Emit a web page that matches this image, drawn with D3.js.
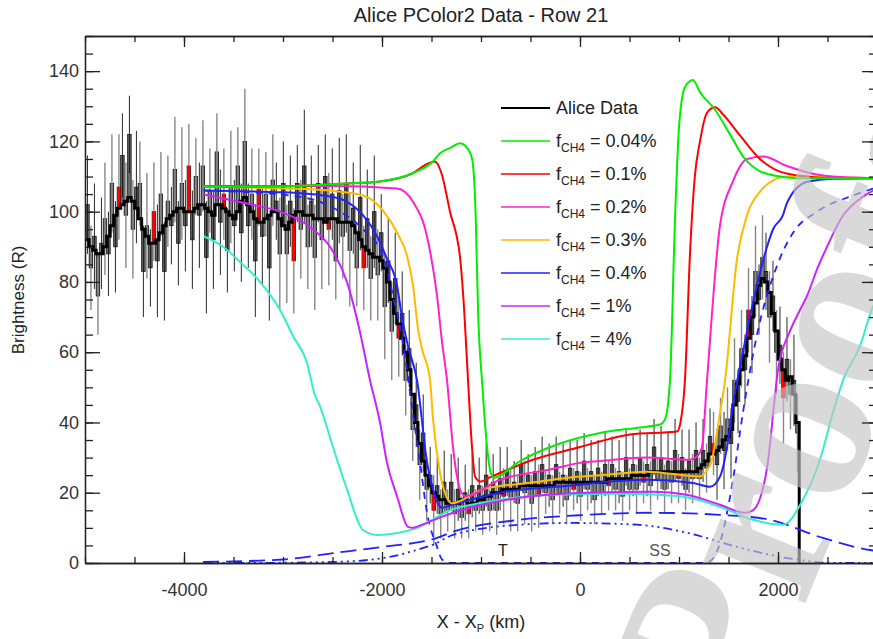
<!DOCTYPE html>
<meta charset="utf-8">
<style>
body { margin: 0; background: #fff; }
text { font-family: "Liberation Sans", Arial, Helvetica, sans-serif; fill: #222; }
</style>
<svg width="873" height="639"></svg>
<script src="https://d3js.org/d3.v7.min.js"></script>
<script>
// Alice row 21 data: bins of ~35 km starting at -4993 km
var binStart = -4993, binWidth = 35.33;

var smooth = [
  92,90,89,88,88,90,93,96,99,101,
  102,103,104,103,101,98,95,93,91,91,
  92,94,96,98,99,100,101,101,100,100,
  100,101,102,102,101,100,99,102,102,101,
  100,99,98,100,103,104,102,100,98,97,
  97,98,99,100,100,98,96,95,97,99,
  100,100,99,99,99,98,98,98,97,98,
  98,98,97,97,97,97,96,94,92,90,
  89,88,87,87,86,84,80,75,71,68,
  64,60,55,48,40,34,29,25,22,20,
  19,18,18,17,17,17,17,18,18,17,
  17,17,18,18,19,19,20,20,20,21,
  21,21,21,21,22,22,22,22,22,22,
  22,22,22,22,23,23,23,23,23,23,
  23,23,23,23,23,23,23,23,23,24,
  24,24,24,24,24,24,25,25,25,25,
  25,26,26,26,26,26,26,26,26,26,
  26,26,26,26,26,27,28,29,31,31,
  32,33,35,36,38,45,51,55,59,64,
  70,74,79,81,80,77,71,66,58,55,
  52,53,48,40];

var raw = [
  102,84,93,76,91,98,88,108,90,107,
  116,99,122,95,107,108,83,96,84,100,
  86,105,83,103,96,112,91,108,96,113,
  92,110,99,113,87,106,92,117,97,105,
  89,107,96,113,94,120,96,105,86,107,
  93,105,84,109,103,88,108,88,103,86,
  108,95,113,90,103,87,108,92,110,95,
  105,86,106,93,108,89,101,84,104,84,
  98,81,100,82,94,73,86,66,81,64,
  71,52,61,38,45,28,37,21,25,15,
  22,14,23,15,23,14,21,13,20,14,
  22,15,22,15,25,15,23,15,24,19,
  26,18,23,17,28,20,25,17,26,19,
  28,20,25,18,28,20,25,18,27,21,
  26,19,29,21,26,18,27,20,28,22,
  28,21,26,19,30,21,28,21,30,23,
  28,22,33,24,30,21,29,23,32,24,
  30,21,29,24,32,24,32,27,36,34,
  28,39,32,41,34,52,46,61,55,72,
  65,83,75,87,83,70,76,60,62,47,
  58,48,52,37];

var err = [
  14,12,15,11,13,16,12,14,13,15,
  12,15,11,14,16,12,13,15,11,14,
  16,12,14,13,11,15,12,16,13,12,
  14,11,15,13,16,12,14,11,15,13,
  12,16,13,11,14,15,12,13,16,11,
  14,12,15,13,11,16,12,14,13,15,
  11,14,16,12,13,15,11,14,12,16,
  13,11,15,12,14,16,13,11,15,12,
  14,12,16,13,11,15,12,14,13,11,
  12,10,11,9,12,10,11,9,8,10,
  8,7,9,6,8,7,9,6,8,7,
  9,6,8,7,9,6,8,7,9,8,
  7,9,6,8,7,9,6,8,7,9,
  8,6,9,7,8,6,9,7,8,6,
  9,7,8,6,9,7,8,6,9,7,
  8,6,9,7,8,6,9,7,8,6,
  9,7,8,6,9,7,8,6,9,7,
  8,6,9,7,8,6,9,7,8,9,
  10,8,11,9,10,12,9,11,10,12,
  11,13,10,12,11,13,10,12,11,13,
  12,10,13,11];

// every 10th bin is marked red
var redFirst = 9, redEvery = 10;

// model curves [km, R]
var fch4_004 = [[-3800,107],[-3000,107.2],[-2354,108],[-2020,108.6],[-1687,111],[-1485,114.3],[-1414,116.6],[-1300,118.3],
  [-1212,119.5],[-1150,118.5],[-1090,115],[-1055,100],[-1030,72],[-985,50],[-935,32],[-900,25.5],[-870,24.3],
  [-606,29],[-202,34],[202,37],[606,38.6],[808,39.4],[860,41],[909,52],[960,98],[1000,124],[1060,135.5],[1141,137.5],
  [1212,134],[1364,129],[1515,122],[1667,115],[1818,111.5],[2020,110],[2200,109.5],[3000,109.5]];
var fch4_01 = [[-3800,107],[-3000,107.2],[-2354,108],[-2020,108.6],[-1687,111],[-1550,113.5],[-1465,114.3],[-1400,111],
  [-1313,100],[-1212,87],[-1170,72],[-1131,52],[-1091,33],[-1060,24.6],[-1010,23.2],[-900,24.5],[-475,29.4],
  [0,33],[202,34.6],[505,36.6],[980,37.4],[1015,40],[1060,52],[1111,88],[1160,110],[1212,120],[1280,128],[1364,129.7],
  [1450,127.5],[1616,121.7],[1818,115],[2020,111.4],[2293,110],[2500,109.5],[3000,109.5]];
var fch4_02 = [[-3800,107.3],[-3000,107.3],[-2525,107.3],[-1848,106.6],[-1687,102.8],[-1546,93],[-1444,76],[-1394,63],
  [-1343,52],[-1283,33],[-1212,21],[-1161,19],[-808,23.7],[-303,26.6],[0,28.5],[202,29],[677,30],[1111,29.4],
  [1181,30.3],[1232,33],[1283,52],[1414,96],[1545,108.6],[1687,115],[1850,115.7],[2091,113],[2354,110.8],[2555,110],[3000,109.5]];
var fch4_03 = [[-3800,107.1],[-3000,106.6],[-2525,106],[-2192,104.6],[-1990,100.3],[-1848,94],[-1747,87.4],[-1687,79],
  [-1636,66.6],[-1596,61],[-1515,52],[-1485,41],[-1414,25.7],[-1333,18],[-1293,17],[-980,21],[-475,22.9],[0,24.6],
  [202,25],[677,26],[1212,24.6],[1262,25.7],[1333,29.4],[1414,42.8],[1465,52],[1586,86.6],[1687,99],[1818,105.7],
  [1950,108.9],[2091,110],[3000,109.5]];
var fch4_04 = [[-3800,106],[-3000,105.5],[-2525,104.3],[-2354,102.8],[-2192,99],[-2050,93],[-1950,86.6],[-1848,79],
  [-1798,70],[-1737,61.7],[-1646,52],[-1545,28.6],[-1485,21],[-1414,16],[-1394,15.7],[-1300,16.5],[-808,20],[0,22.3],
  [202,22.9],[677,23.7],[1141,22.8],[1313,21.7],[1414,24.6],[1485,33],[1545,45],[1646,60],[1747,74],[1889,90],
  [1950,95],[2050,99],[2091,102.5],[2293,108.5],[2555,109.4],[3000,109.5]];
var fch4_1 = [[-3800,104.9],[-3364,102.3],[-3030,100],[-2697,95],[-2525,90],[-2354,80],[-2222,65.7],[-2121,52],
  [-2020,40],[-1950,28.6],[-1848,19],[-1737,10.3],[-1687,10],[-1616,10.7],[-1283,14.3],[-606,18.6],[70,20],[737,20.3],
  [1080,19.4],[1414,16.6],[1667,14.3],[1747,15],[1889,27],[1960,45],[2000,55],[2121,66],[2222,72],[2293,76],
  [2400,84],[2495,90],[2657,98.9],[2828,103.7],[2960,106],[3000,106.5]];
var fch4_4 = [[-3800,93],[-3606,90],[-3434,85.7],[-3232,80],[-3030,72],[-2899,64.6],[-2758,57],[-2680,48],[-2626,44.6],
  [-2495,33],[-2354,21],[-2192,9.4],[-2050,8],[-1646,10],[-1313,15],[-939,17.4],[-273,19.4],[404,19.7],[1010,19],
  [1414,16],[1747,12.3],[2050,10.9],[2252,18],[2424,29.4],[2555,42.8],[2657,52],[2828,61.7],[2960,73],[3000,75]];
// blue dashed components
var blueDash = [[-3800,106],[-3465,105.7],[-2929,104.6],[-2626,102.8],[-2424,100],[-2192,95],[-1990,87.4],[-1889,76],
  [-1788,62.8],[-1700,45],[-1616,28.6],[-1545,14.3],[-1444,4.6],[-1394,1],[-1300,0],[1250,0],[1313,0.5],[1414,5.7],
  [1485,14.3],[1545,23.7],[1646,42.8],[1788,65],[1990,84.6],[2152,94],[2394,100],[2758,104.6],[2960,106.6],[3000,107]];
var blueLongDash = [[-3808,0.3],[-3000,1],[-2495,2.8],[-1990,4.6],[-1616,6],[-1485,6.8],[-1283,8.9],[-606,12.3],
  [70,13.7],[737,14.3],[1414,13.7],[1919,12.3],[2424,7.4],[2929,3.7],[3000,3.4]];
var blueDashDot = [[-3800,0],[-3505,0],[-2495,0.3],[-1990,1.4],[-1616,4],[-1485,5.2],[-1283,8],[-606,10.9],[-101,11.4],
  [576,10.9],[1080,8.6],[1586,4.6],[2091,1.4],[2596,0],[3000,0]];

var legendLabels = ["Alice Data", "0.04%", "0.1%", "0.2%", "0.3%", "0.4%", "1%", "4%"];
var legendColors = ["#000000", "#00ee00", "#ff0000", "#ff22cc", "#ffbb00", "#2222ff", "#cc22ff", "#33eecc"];
var xTicks = [-4000, -2000, 0, 2000];
var yTicks = [0, 20, 40, 60, 80, 100, 120, 140];

var svg = d3.select("svg"),
    width = +svg.attr("width"),
    height = +svg.attr("height");

var x = d3.scaleLinear().domain([-5000, 3000]).range([85, 877]);
var y = d3.scaleLinear().domain([0, 150]).range([563, 36]);

svg.append("defs").append("clipPath").attr("id", "plot")
  .append("rect").attr("x", 85).attr("y", 36).attr("width", 792).attr("height", 527);

var plot = svg.append("g").attr("clip-path", "url(#plot)");

// data boxes between raw value and smoothed value
var bins = raw.map(function(v, i) {
  return { i: i, x0: binStart + i * binWidth, x1: binStart + (i + 1) * binWidth,
           raw: v, sm: smooth[i], err: err[i], red: (i - redFirst) % redEvery === 0 && i >= redFirst };
});

plot.append("g").selectAll("rect")
  .data(bins).enter().append("rect")
  .attr("x", function(d) { return x(d.x0); })
  .attr("width", function(d) { return x(d.x1) - x(d.x0); })
  .attr("y", function(d) { return y(Math.max(d.raw, d.sm)); })
  .attr("height", function(d) { return Math.abs(y(d.raw) - y(d.sm)); })
  .attr("fill", "#6a6a6a")
  .attr("stroke", "#111")
  .attr("stroke-width", 0.8);

plot.append("g").selectAll("line")
  .data(bins).enter().append("line")
  .attr("x1", function(d) { return x((d.x0 + d.x1) / 2); })
  .attr("x2", function(d) { return x((d.x0 + d.x1) / 2); })
  .attr("y1", function(d) { return y(d.raw - d.err); })
  .attr("y2", function(d) { return y(d.raw + d.err); })
  .attr("stroke", function(d) { return d.i % 2 ? "#888" : "#111"; })
  .attr("stroke-width", function(d) { return d.i % 2 ? 1.4 : 0.9; });

plot.append("g").selectAll("rect")
  .data(bins.filter(function(d) { return d.red; })).enter().append("rect")
  .attr("x", function(d) { return x(d.x0) + 0.3; })
  .attr("width", function(d) { return x(d.x1) - x(d.x0) - 0.6; })
  .attr("y", function(d) { return y(Math.max(d.raw, d.sm)); })
  .attr("height", function(d) { return Math.max(2, Math.abs(y(d.raw) - y(d.sm))); })
  .attr("fill", "#ff0000");

var stepPts = smooth.map(function(v, i) { return [binStart + i * binWidth, v]; });
var xEnd = binStart + smooth.length * binWidth;
stepPts.push([xEnd, smooth[smooth.length - 1]]);
stepPts.push([xEnd, 0]);

plot.append("path")
  .datum(stepPts)
  .attr("fill", "none")
  .attr("stroke", "#000")
  .attr("stroke-width", 3)
  .attr("d", d3.line().x(function(d) { return x(d[0]); }).y(function(d) { return y(d[1]); }).curve(d3.curveStepAfter));

// model curves
var curve = d3.line()
  .x(function(d) { return x(d[0]); })
  .y(function(d) { return y(d[1]); })
  .curve(d3.curveMonotoneX);

var dashed = [
  { pts: blueDash, dash: "7,6" },
  { pts: blueLongDash, dash: "16,7" },
  { pts: blueDashDot, dash: "9,4,2,4,2,4,2,4" }
];
plot.append("g").selectAll("path")
  .data(dashed).enter().append("path")
  .attr("fill", "none")
  .attr("stroke", "#2222ff")
  .attr("stroke-width", 1.8)
  .attr("stroke-dasharray", function(d) { return d.dash; })
  .attr("d", function(d) { return curve(d.pts); });

var models = [fch4_4, fch4_1, fch4_04, fch4_03, fch4_02, fch4_01, fch4_004];
var modelColors = ["#33eecc", "#cc22ff", "#2222ff", "#ffbb00", "#ff22cc", "#ff0000", "#00ee00"];
plot.append("g").selectAll("path")
  .data(models).enter().append("path")
  .attr("fill", "none")
  .attr("stroke", function(d, i) { return modelColors[i]; })
  .attr("stroke-width", 2)
  .attr("d", curve);

// annotations
svg.append("text").attr("x", 503).attr("y", 556).attr("text-anchor", "middle")
  .attr("font-size", 16).text("T");
svg.append("text").attr("x", 660).attr("y", 556).attr("text-anchor", "middle")
  .attr("font-size", 16).style("fill", "#555").text("SS");

// watermark
svg.append("text")
  .attr("transform", "translate(748,745) rotate(-68)")
  .attr("font-size", 240)
  .style("font-family", "'Liberation Serif', serif")
  .style("font-weight", "bold")
  .style("fill", "#c4c4c4")
  .style("fill-opacity", 0.65)
  .text("Proofs");

// axes
function styleAxis(g) {
  g.attr("color", "#222").attr("font-size", 18)
   .attr("font-family", "'Liberation Sans', Arial, sans-serif");
  g.selectAll("line").attr("stroke-width", 1.3);
  g.select(".domain").attr("stroke-width", 1.3);
  g.selectAll("text").style("fill", "#333");
}

svg.append("g").attr("transform", "translate(0,563)")
  .call(d3.axisBottom(x).ticks(16).tickSize(-6).tickSizeOuter(0).tickFormat(""))
  .call(styleAxis);
svg.append("g").attr("transform", "translate(0,563)")
  .call(d3.axisBottom(x).tickValues(xTicks).tickSize(-11).tickSizeOuter(0).tickPadding(20)
    .tickFormat(function(d) { return String(d); }))
  .call(styleAxis);
svg.append("g").attr("transform", "translate(0,36)")
  .call(d3.axisTop(x).ticks(16).tickSize(-6).tickSizeOuter(0).tickFormat(""))
  .call(styleAxis);
svg.append("g").attr("transform", "translate(0,36)")
  .call(d3.axisTop(x).tickValues(xTicks).tickSize(-11).tickSizeOuter(0).tickFormat(""))
  .call(styleAxis);

svg.append("g").attr("transform", "translate(85,0)")
  .call(d3.axisLeft(y).ticks(30).tickSize(-8).tickSizeOuter(0).tickFormat(""))
  .call(styleAxis);
svg.append("g").attr("transform", "translate(85,0)")
  .call(d3.axisLeft(y).tickValues(yTicks).tickSize(-15).tickSizeOuter(0).tickPadding(6))
  .call(styleAxis);
svg.append("g").attr("transform", "translate(877,0)")
  .call(d3.axisRight(y).ticks(30).tickSize(-8).tickSizeOuter(0).tickFormat(""))
  .call(styleAxis);
svg.append("g").attr("transform", "translate(877,0)")
  .call(d3.axisRight(y).tickValues(yTicks).tickSize(-15).tickSizeOuter(0).tickFormat(""))
  .call(styleAxis);

// titles
svg.append("text").attr("x", 481).attr("y", 22).attr("text-anchor", "middle")
  .attr("font-size", 20).text("Alice PColor2 Data - Row 21");

var xl = svg.append("text").attr("x", 481).attr("y", 628).attr("text-anchor", "middle").attr("font-size", 18);
xl.append("tspan").text("X - X");
xl.append("tspan").attr("font-size", 11).attr("dy", 4).text("P");
xl.append("tspan").attr("dy", -4).text(" (km)");

svg.append("text").attr("transform", "translate(24,300) rotate(-90)")
  .attr("text-anchor", "middle").attr("font-size", 17).text("Brightness (R)");

// legend
var leg = svg.append("g").selectAll("g")
  .data(legendLabels).enter().append("g")
  .attr("transform", function(d, i) { return "translate(0," + (108 + 33 * i) + ")"; });
leg.append("line")
  .attr("x1", 501).attr("x2", 550)
  .attr("stroke", function(d, i) { return legendColors[i]; })
  .attr("stroke-width", function(d, i) { return i ? 1.5 : 2; });
leg.each(function(d, i) {
  var t = d3.select(this).append("text").attr("x", 556).attr("y", 6).attr("font-size", 18);
  if (i === 0) { t.text(d); return; }
  t.append("tspan").text("f");
  t.append("tspan").attr("font-size", 12).attr("dy", 5).text("CH4");
  t.append("tspan").attr("dy", -5).text(" = " + d);
});
</script>
